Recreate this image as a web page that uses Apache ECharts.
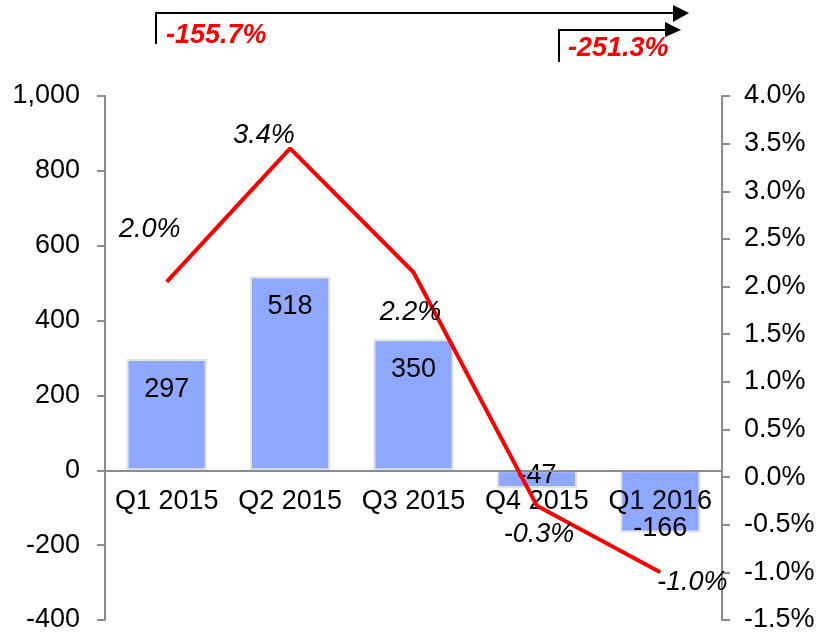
<!DOCTYPE html>
<html>
<head>
<meta charset="utf-8">
<script src="https://cdn.jsdelivr.net/npm/echarts@6/dist/echarts.min.js"></script>
<style>
	html, body { margin: 0; padding: 0; background: #fff; }
	#chart { width: 832px; height: 638px; }
</style>
</head>
<body>
<div id="chart"></div>
<script>
var categories = ['Q1 2015', 'Q2 2015', 'Q3 2015', 'Q4 2015', 'Q1 2016'];
var barValues = [297, 518, 350, -47, -166];
var growthValues = [2.05, 3.45, 2.15, -0.3, -1.0];
var growthLabels = ['2.0%', '3.4%', '2.2%', '-0.3%', '-1.0%'];
var changeLabels = ['-155.7%', '-251.3%'];

var FONT = 'Arial, "Liberation Sans", sans-serif';
var AXIS_GREY = '#8c8c8c';
var FS = 27;

// label offsets
var growthOffsets = [[-17, -52], [-26, -13], [-3, 40], [2, 29], [32, 10]];
var barLabelOffsets = [[0, 0], [0, 0], [0, 0], [0, 5], [0, 14]];

var chart = echarts.init(document.getElementById('chart'));

var barData = barValues.map(function (v, i) {
	var label = v >= 0
		? { position: 'insideTop', distance: 17 }
		: { position: 'insideBottom', distance: 4 };
	label.offset = barLabelOffsets[i];
	return { value: v, label: label };
});

var lineData = growthValues.map(function (v, i) {
	return {
		value: v,
		label: { offset: growthOffsets[i], formatter: growthLabels[i] }
	};
});

// the category axis sits on the left axis zero line
var gridTop = 96, gridBottom = 18, plotH = 638 - gridTop - gridBottom;
var zeroShift = -plotH * 400 / 1400;

var option = {
	animation: false,
	textStyle: { fontFamily: FONT },
	grid: { left: 105, right: 110, top: gridTop, bottom: gridBottom, containLabel: false, outerBoundsMode: 'none' },
	xAxis: {
		type: 'category',
		data: categories,
		position: 'bottom',
		offset: zeroShift,
		z: 10,
		axisLine: { onZero: false, lineStyle: { color: AXIS_GREY, width: 2 } },
		axisTick: { show: false },
		axisLabel: { color: '#000', fontSize: FS, margin: 18, fontFamily: FONT, interval: 0 },
		splitLine: { show: false }
	},
	yAxis: [{
		type: 'value',
		min: -400,
		max: 1000,
		interval: 200,
		axisLine: { show: true, lineStyle: { color: AXIS_GREY, width: 2 } },
		axisTick: { show: true, length: 8, lineStyle: { color: AXIS_GREY, width: 2 } },
		axisLabel: {
			color: '#000', fontSize: FS, margin: 25, fontFamily: FONT,
			formatter: function (v) { return v.toLocaleString('en-US'); }
		},
		splitLine: { show: false }
	}, {
		type: 'value',
		min: -1.5,
		max: 4.0,
		interval: 0.5,
		position: 'right',
		axisLine: { show: true, lineStyle: { color: AXIS_GREY, width: 2 } },
		axisTick: { show: true, length: 8, lineStyle: { color: AXIS_GREY, width: 2 } },
		axisLabel: {
			color: '#000', fontSize: FS, margin: 22, fontFamily: FONT,
			formatter: function (v) { return v.toFixed(1) + '%'; }
		},
		splitLine: { show: false }
	}],
	series: [{
		type: 'bar',
		yAxisIndex: 0,
		data: barData,
		barWidth: '65%',
		itemStyle: { color: '#8ea8fe', borderColor: '#e2e2e2', borderWidth: 2 },
		label: { show: true, color: '#000', fontSize: FS, fontFamily: FONT }
	}, {
		type: 'line',
		yAxisIndex: 1,
		data: lineData,
		symbol: 'circle',
		symbolSize: 1,
		itemStyle: { color: 'rgba(0,0,0,0)' },
		lineStyle: { color: '#ff0000', width: 4 },
		z: 12,
		label: {
			show: true, position: 'inside', color: '#000', fontSize: FS,
			fontStyle: 'italic', fontFamily: FONT
		}
	}],
	graphic: [
		{ type: 'polyline', shape: { points: [[156, 44], [156, 13], [675, 13]] }, style: { stroke: '#000', lineWidth: 2, fill: null } },
		{ type: 'polygon', shape: { points: [[673, 5], [689, 13], [673, 22]] }, style: { fill: '#000' } },
		{ type: 'polyline', shape: { points: [[559, 62], [559, 30], [667, 30]] }, style: { stroke: '#000', lineWidth: 2, fill: null } },
		{ type: 'polygon', shape: { points: [[665, 22], [681, 30], [665, 37]] }, style: { fill: '#000' } },
		{ type: 'text', left: 166, top: 22, style: { text: changeLabels[0], fill: '#ff0000', font: 'italic bold 27px ' + FONT } },
		{ type: 'text', left: 568, top: 35, style: { text: changeLabels[1], fill: '#ff0000', font: 'italic bold 27px ' + FONT } }
	]
};

chart.setOption(option);
</script>
</body>
</html>
